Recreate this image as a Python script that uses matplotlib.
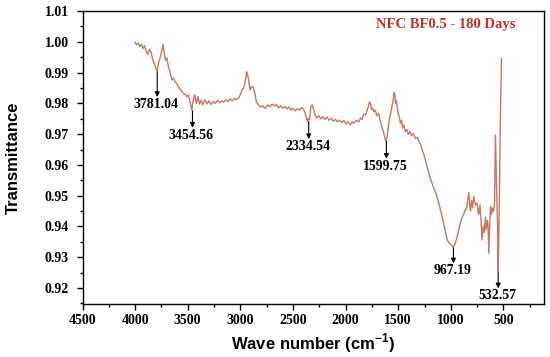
"""
FTIR spectrum, NFC BF0.5 after 180 days
"""

import matplotlib

matplotlib.use("Agg")
import matplotlib.pyplot as plt
from matplotlib.ticker import MultipleLocator

# Wave number (cm-1) and transmittance
wave_number = [
    4000, 3985, 3970, 3955, 3940, 3925, 3910, 3895, 3880, 3865, 3850, 3835,
    3820, 3800, 3790, 3775, 3760, 3745, 3735, 3722, 3710, 3698, 3683, 3670,
    3652, 3635, 3620, 3604, 3588, 3570, 3555, 3540, 3525, 3510, 3493, 3478,
    3462, 3448, 3433, 3418, 3403, 3388, 3373, 3358, 3338, 3318, 3298, 3278,
    3258, 3238, 3218, 3198, 3178, 3158, 3138, 3118, 3098, 3078, 3058, 3038,
    3016, 2998, 2983, 2968, 2953, 2938, 2923, 2908, 2893, 2878, 2863, 2848,
    2828, 2808, 2788, 2762, 2738, 2718, 2698, 2678, 2658, 2638, 2618, 2598,
    2578, 2558, 2538, 2518, 2498, 2478, 2458, 2438, 2418, 2398, 2378, 2366,
    2353, 2342, 2330, 2318, 2303, 2288, 2273, 2255, 2238, 2218, 2198, 2178,
    2158, 2138, 2118, 2096, 2078, 2058, 2038, 2018, 1998, 1978, 1954, 1938,
    1918, 1898, 1875, 1858, 1843, 1828, 1811, 1798, 1783, 1773, 1764, 1753,
    1743, 1732, 1718, 1703, 1685, 1668, 1653, 1638, 1621, 1608, 1598, 1588,
    1574, 1558, 1548, 1540, 1533, 1526, 1518, 1511, 1498, 1488, 1479, 1468,
    1458, 1448, 1431, 1418, 1403, 1388, 1373, 1358, 1336, 1318, 1303, 1288,
    1273, 1248, 1223, 1198, 1178, 1158, 1138, 1114, 1088, 1063, 1035, 1013,
    993, 975, 958, 940, 918, 893, 878, 861, 848, 838, 829, 820, 813, 803,
    793, 782, 773, 763, 750, 743, 734, 723, 713, 703, 693, 683, 671, 663,
    653, 646, 639, 631, 623, 613, 603, 593, 584, 576, 570, 562, 555, 550,
    538, 528, 518,
]
transmittance = [
    0.9998, 0.9990, 0.9996, 0.9985, 0.9992, 0.9978, 0.9988, 0.9970, 0.9960, 0.9975, 0.9968, 0.9945,
    0.9930, 0.9912, 0.9905, 0.9935, 0.9950, 0.9975, 0.9992, 0.9960, 0.9940, 0.9948, 0.9918, 0.9905,
    0.9876, 0.9882, 0.9870, 0.9864, 0.9853, 0.9845, 0.9838, 0.9832, 0.9830, 0.9822, 0.9827, 0.9805,
    0.9778, 0.9810, 0.9828, 0.9800, 0.9822, 0.9798, 0.9810, 0.9795, 0.9812, 0.9798, 0.9808, 0.9796,
    0.9806, 0.9800, 0.9810, 0.9802, 0.9808, 0.9804, 0.9812, 0.9806, 0.9814, 0.9808, 0.9816, 0.9812,
    0.9818, 0.9830, 0.9845, 0.9850, 0.9875, 0.9903, 0.9880, 0.9843, 0.9855, 0.9852, 0.9835, 0.9805,
    0.9795, 0.9788, 0.9792, 0.9784, 0.9795, 0.9790, 0.9798, 0.9792, 0.9796, 0.9786, 0.9792, 0.9785,
    0.9790, 0.9782, 0.9788, 0.9778, 0.9784, 0.9776, 0.9782, 0.9779, 0.9786, 0.9781, 0.9760, 0.9742,
    0.9752, 0.9746, 0.9790, 0.9795, 0.9780, 0.9760, 0.9752, 0.9760, 0.9750, 0.9758, 0.9748, 0.9756,
    0.9745, 0.9752, 0.9742, 0.9748, 0.9740, 0.9746, 0.9738, 0.9744, 0.9734, 0.9740, 0.9730, 0.9740,
    0.9736, 0.9745, 0.9740, 0.9752, 0.9748, 0.9765, 0.9762, 0.9775, 0.9790, 0.9805, 0.9800, 0.9780,
    0.9785, 0.9773, 0.9778, 0.9760, 0.9767, 0.9740, 0.9720, 0.9705, 0.9680, 0.9688, 0.9710, 0.9740,
    0.9764, 0.9790, 0.9810, 0.9835, 0.9832, 0.9800, 0.9810, 0.9789, 0.9765, 0.9755, 0.9735, 0.9745,
    0.9720, 0.9730, 0.9708, 0.9715, 0.9700, 0.9708, 0.9695, 0.9702, 0.9686, 0.9690, 0.9675, 0.9668,
    0.9650, 0.9625, 0.9590, 0.9560, 0.9540, 0.9520, 0.9505, 0.9475, 0.9440, 0.9400, 0.9356, 0.9345,
    0.9338, 0.9332, 0.9345, 0.9367, 0.9400, 0.9430, 0.9440, 0.9455, 0.9460, 0.9490, 0.9510, 0.9470,
    0.9450, 0.9485, 0.9460, 0.9497, 0.9480, 0.9470, 0.9476, 0.9450, 0.9440, 0.9470, 0.9420, 0.9356,
    0.9400, 0.9380, 0.9430, 0.9390, 0.9420, 0.9400, 0.9313, 0.9400, 0.9464, 0.9440, 0.9460, 0.9450,
    0.9480, 0.9697, 0.9600, 0.9480, 0.9400, 0.9253, 0.9500, 0.9780, 0.9946,
]

# Peak labels, wave number of each arrow, value where the arrow starts
# and how far down the arrow reaches
peak_labels = ["3781.04", "3454.56", "2334.54", "1599.75", "967.19", "532.57"]
peak_wave = [3790, 3455, 2350, 1612, 975, 550]
peak_value = [0.9903, 0.9776, 0.9742, 0.9678, 0.9330, 0.9251]
arrow_drop = [0.0082, 0.0055, 0.0058, 0.0058, 0.0050, 0.0052]

line_colour = "#c97560"
title_colour = "#c0302a"

plt.rcParams["font.family"] = ["Liberation Serif", "DejaVu Serif"]
plt.rcParams["mathtext.fontset"] = "custom"
plt.rcParams["mathtext.bf"] = "Liberation Sans:bold"
plt.rcParams["mathtext.rm"] = "Liberation Sans"

fig = plt.figure(figsize=(5.5, 3.57), dpi=100)
ax = fig.add_axes([0.150, 0.1485, 0.839, 0.8205])

ax.plot(wave_number, transmittance, color=line_colour, lw=1.0)

# Arrows and peak labels
for label, w, v, d in zip(peak_labels, peak_wave, peak_value, arrow_drop):
    ax.annotate(
        "",
        xy=(w, v - d),
        xytext=(w, v),
        arrowprops=dict(arrowstyle="-|>", color="black", lw=0.8, mutation_scale=7,
                        shrinkA=0, shrinkB=0),
    )
    ax.text(w + 10, v - d - 0.0003, label, ha="center", va="top",
            fontsize=10, fontweight="bold")

ax.text(0.788, 0.955, "NFC BF0.5 - 180 Days", transform=ax.transAxes,
        ha="center", va="center", color=title_colour, fontsize=10.5,
        fontweight="bold")

ax.set_xlim(4500, 115)
ax.set_ylim(0.9148, 1.01)
ax.xaxis.set_minor_locator(MultipleLocator(250))
ax.yaxis.set_minor_locator(MultipleLocator(0.005))
ax.set_xticks([4500, 4000, 3500, 3000, 2500, 2000, 1500, 1000, 500])
ax.set_yticks([0.92, 0.93, 0.94, 0.95, 0.96, 0.97, 0.98, 0.99, 1.00, 1.01])
ax.yaxis.set_major_formatter(plt.FormatStrFormatter("%.2f"))

ax.tick_params(which="both", direction="out", width=1, top=False, right=False)
ax.tick_params(which="major", length=4, labelsize=10)
ax.tick_params(axis="y", which="major", pad=6)
ax.tick_params(which="minor", length=2.5)
for lab in ax.get_xticklabels() + ax.get_yticklabels():
    lab.set_fontweight("bold")
for sp in ax.spines.values():
    sp.set_linewidth(1.0)

ax.set_xlabel("Wave number (cm$^{\\mathbf{-1}}$)", family="Liberation Sans",
              fontsize=12, fontweight="bold", labelpad=3)
ax.set_ylabel("Transmittance", family="Liberation Sans", fontsize=12,
              fontweight="bold", labelpad=17)

fig.savefig("out.png", dpi=100)
